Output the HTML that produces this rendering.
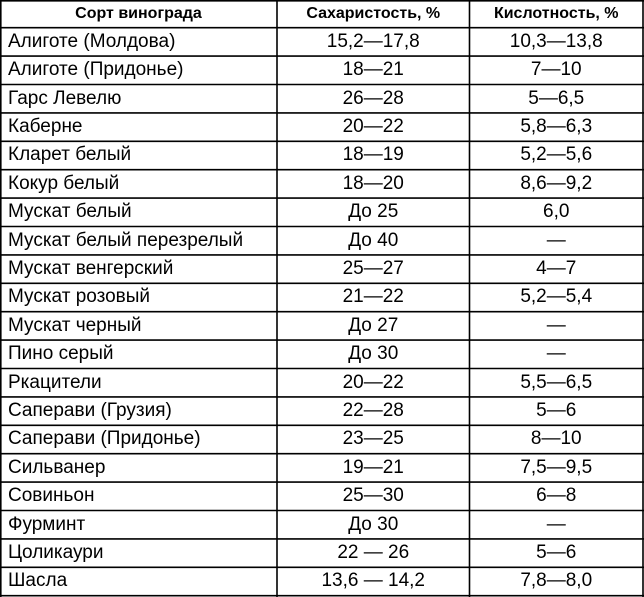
<!DOCTYPE html>
<html><head><meta charset="utf-8"><style>
html,body{margin:0;padding:0;background:#fff;}
body{width:644px;height:597px;position:relative;overflow:hidden;font-family:"Liberation Sans","Noto Sans CJK SC",sans-serif;color:#000;}
.r{position:absolute;left:0;width:644px;height:28.4px;line-height:28.4px;font-size:19px;white-space:nowrap;}
.r div{position:absolute;top:0;height:28.4px;}
.a{left:8px;}
.b{left:277px;width:192.5px;text-align:center;}
.c{left:469.5px;width:173.5px;text-align:center;}
.h{font-weight:bold;font-size:16px;}
.h .a{left:0;width:277px;text-align:center;}
svg{position:absolute;left:0;top:0;}
</style></head><body>
<svg width="644" height="597" viewBox="0 0 644 597">
<g stroke="#000" stroke-width="1.6" fill="none">
<line x1="0" y1="0.8" x2="644" y2="0.8"/>
<line x1="0" y1="27.7" x2="644" y2="27.7"/>
<line x1="0" y1="56.1" x2="644" y2="56.1"/>
<line x1="0" y1="84.5" x2="644" y2="84.5"/>
<line x1="0" y1="112.9" x2="644" y2="112.9"/>
<line x1="0" y1="141.3" x2="644" y2="141.3"/>
<line x1="0" y1="169.7" x2="644" y2="169.7"/>
<line x1="0" y1="198.1" x2="644" y2="198.1"/>
<line x1="0" y1="226.5" x2="644" y2="226.5"/>
<line x1="0" y1="254.9" x2="644" y2="254.9"/>
<line x1="0" y1="283.3" x2="644" y2="283.3"/>
<line x1="0" y1="311.7" x2="644" y2="311.7"/>
<line x1="0" y1="340.1" x2="644" y2="340.1"/>
<line x1="0" y1="368.5" x2="644" y2="368.5"/>
<line x1="0" y1="396.9" x2="644" y2="396.9"/>
<line x1="0" y1="425.3" x2="644" y2="425.3"/>
<line x1="0" y1="453.7" x2="644" y2="453.7"/>
<line x1="0" y1="482.1" x2="644" y2="482.1"/>
<line x1="0" y1="510.5" x2="644" y2="510.5"/>
<line x1="0" y1="538.9" x2="644" y2="538.9"/>
<line x1="0" y1="567.3" x2="644" y2="567.3"/>
<line x1="0" y1="595.7" x2="644" y2="595.7"/>
<line x1="0.8" y1="0" x2="0.8" y2="597"/>
<line x1="277" y1="0" x2="277" y2="597"/>
<line x1="469.5" y1="0" x2="469.5" y2="597"/>
<line x1="643" y1="0" x2="643" y2="597"/>
</g>
</svg>
<div class="r h" style="top:0px"><div class="a">Сорт винограда</div><div class="b">Сахаристость, %</div><div class="c">Кислотность, %</div></div>
<div class="r" style="top:27.7px"><div class="a">Алиготе (Молдова)</div><div class="b">15,2—17,8</div><div class="c">10,3—13,8</div></div>
<div class="r" style="top:56.1px"><div class="a">Алиготе (Придонье)</div><div class="b">18—21</div><div class="c">7—10</div></div>
<div class="r" style="top:84.5px"><div class="a">Гарс Левелю</div><div class="b">26—28</div><div class="c">5—6,5</div></div>
<div class="r" style="top:112.9px"><div class="a">Каберне</div><div class="b">20—22</div><div class="c">5,8—6,3</div></div>
<div class="r" style="top:141.3px"><div class="a">Кларет белый</div><div class="b">18—19</div><div class="c">5,2—5,6</div></div>
<div class="r" style="top:169.7px"><div class="a">Кокур белый</div><div class="b">18—20</div><div class="c">8,6—9,2</div></div>
<div class="r" style="top:198.1px"><div class="a">Мускат белый</div><div class="b">До 25</div><div class="c">6,0</div></div>
<div class="r" style="top:226.5px"><div class="a">Мускат белый перезрелый</div><div class="b">До 40</div><div class="c">—</div></div>
<div class="r" style="top:254.9px"><div class="a">Мускат венгерский</div><div class="b">25—27</div><div class="c">4—7</div></div>
<div class="r" style="top:283.3px"><div class="a">Мускат розовый</div><div class="b">21—22</div><div class="c">5,2—5,4</div></div>
<div class="r" style="top:311.7px"><div class="a">Мускат черный</div><div class="b">До 27</div><div class="c">—</div></div>
<div class="r" style="top:340.1px"><div class="a">Пино серый</div><div class="b">До 30</div><div class="c">—</div></div>
<div class="r" style="top:368.5px"><div class="a">Ркацители</div><div class="b">20—22</div><div class="c">5,5—6,5</div></div>
<div class="r" style="top:396.9px"><div class="a">Саперави (Грузия)</div><div class="b">22—28</div><div class="c">5—6</div></div>
<div class="r" style="top:425.3px"><div class="a">Саперави (Придонье)</div><div class="b">23—25</div><div class="c">8—10</div></div>
<div class="r" style="top:453.7px"><div class="a">Сильванер</div><div class="b">19—21</div><div class="c">7,5—9,5</div></div>
<div class="r" style="top:482.1px"><div class="a">Совиньон</div><div class="b">25—30</div><div class="c">6—8</div></div>
<div class="r" style="top:510.5px"><div class="a">Фурминт</div><div class="b">До 30</div><div class="c">—</div></div>
<div class="r" style="top:538.9px"><div class="a">Цоликаури</div><div class="b">22 — 26</div><div class="c">5—6</div></div>
<div class="r" style="top:567.3px"><div class="a">Шасла</div><div class="b">13,6 — 14,2</div><div class="c">7,8—8,0</div></div>
</body></html>
